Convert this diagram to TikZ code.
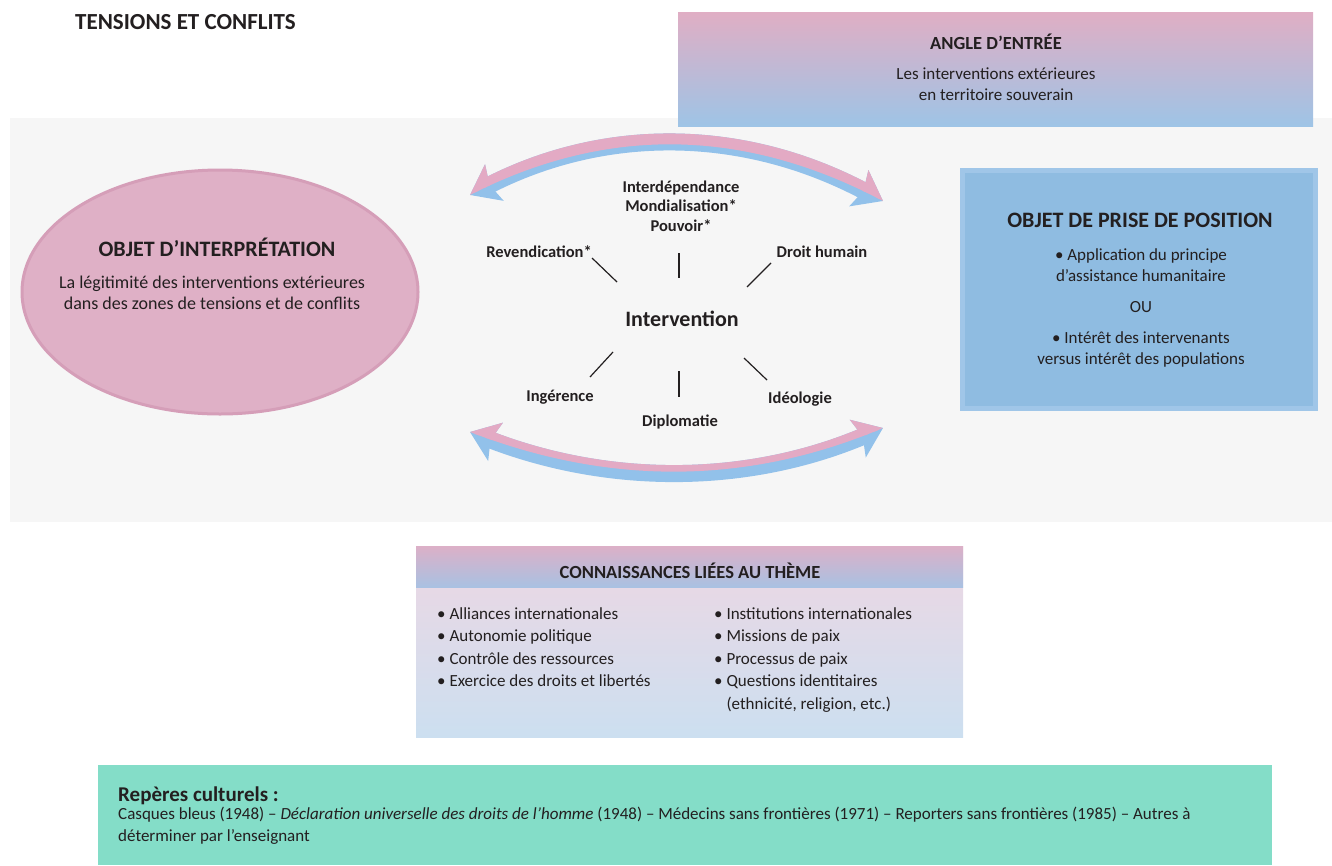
\documentclass[tikz,border=0pt]{standalone}
\usepackage{fontspec}
\setmainfont{Carlito}
\usetikzlibrary{arrows.meta,positioning,shapes.geometric}

\definecolor{texte}{HTML}{231F20}
\definecolor{rosefond}{HTML}{DFB0C6}
\definecolor{roserim}{HTML}{D59EB8}
\definecolor{bleufond}{HTML}{8FBCE1}
\definecolor{bleurim}{HTML}{A0C6E8}
\definecolor{rosehaut}{HTML}{E0AEC4}
\definecolor{bleubas}{HTML}{9EC4E6}
\definecolor{rosetete}{HTML}{DCB0C7}
\definecolor{bleutete}{HTML}{A9C1E2}
\definecolor{roseclair}{HTML}{EED7E3}
\definecolor{bleuclair}{HTML}{CCDFF0}
\definecolor{vertrepere}{HTML}{84DDC8}
\definecolor{grisfond}{HTML}{F6F6F6}
\definecolor{rosefleche}{HTML}{E3AAC4}
\definecolor{bleufleche}{HTML}{92C1EA}

\tikzset{
  every node/.style={text=texte, inner sep=0pt},
  titre/.style={font=\bfseries\fontsize{22}{24}\selectfont},
  soustitre/.style={font=\bfseries\fontsize{18.5}{20}\selectfont},
  corps/.style={font=\fontsize{17}{21}\selectfont, align=center},
  mot/.style={font=\bfseries\fontsize{16.5}{19.5}\selectfont, align=center},
  liste/.style={font=\fontsize{17}{22.5}\selectfont, align=left, anchor=north west},
  fleche/.style={line width=17pt,
    {Stealth[length=27pt,width=40pt,inset=5pt]}-{Stealth[length=27pt,width=40pt,inset=5pt]}},
  trait/.style={draw=texte, line width=1.2pt},
}

\def\arcdessus{(470,195) .. controls (607,125) and (745,128) .. (883,201)}
\def\arcdessous{(470,432) .. controls (610,486) and (748,485) .. (883,428)}

\begin{document}
\begin{tikzpicture}[x=1pt,y=-1pt]
\useasboundingbox (0,0) rectangle (1332,865);

\node[font=\bfseries\fontsize{23}{25}\selectfont, anchor=west] (theme) at (75,22) {TENSIONS ET CONFLITS};

\fill[grisfond] (10,118) rectangle (1332,522);

% angle d'entree
\node[top color=rosehaut, bottom color=bleubas, minimum width=635pt, minimum height=114pt] (angle) at (995.5,69) {};
\node[soustitre] (angletitre) at (996,42) {ANGLE D’ENTRÉE};
\node[corps] (angletexte) at (996,84) {Les interventions extérieures\\en territoire souverain};

% objet d'interpretation
\node[ellipse, fill=rosefond, draw=roserim, line width=3pt, minimum width=396pt, minimum height=244pt] (interp) at (220,292) {};
\node[titre] (interptitre) at (217,247) {OBJET D’INTERPRÉTATION};
\node[corps, font=\fontsize{18}{21}\selectfont] (interptexte) at (212,293) {La légitimité des interventions extérieures\\dans des zones de tensions et de conflits};

% objet de prise de position
\node[fill=bleurim, minimum width=358pt, minimum height=243pt] (position) at (1139,289.5) {};
\node[fill=bleufond, minimum width=348pt, minimum height=233pt] (positionfond) at (position) {};
\node[titre] (positiontitre) at (1140,220) {OBJET DE PRISE DE POSITION};
\node[corps] (positiontexte) at (1141,308) {• Application du principe\\d’assistance humanitaire\\[10pt]OU\\[10pt]• Intérêt des intervenants\\versus intérêt des populations};

% fleches
\draw[fleche, bleufleche] \arcdessus;
\begin{scope}
\clip \arcdessus -- (1000,201) -- (1000,100) -- (350,100) -- (350,195) -- cycle;
\draw[fleche, rosefleche] \arcdessus;
\end{scope}
\draw[fleche, bleufleche] \arcdessous;
\begin{scope}
\clip \arcdessous -- (1000,428) -- (1000,300) -- (350,300) -- (350,432) -- cycle;
\draw[fleche, rosefleche] \arcdessous;
\end{scope}

% concepts
\node[font=\bfseries\fontsize{22}{24}\selectfont] (inter) at (682,319) {Intervention};
\node[mot] (interdep) at (681,206) {Interdépendance\\Mondialisation*\\Pouvoir*};
\node[mot] (rev) at (539,252) {Revendication*};
\node[mot] (droit) at (822,252) {Droit humain};
\node[mot] (ing) at (560,397) {Ingérence};
\node[mot] (diplo) at (680,422) {Diplomatie};
\node[mot] (ideo) at (800,399) {Idéologie};
\foreach \xa/\ya/\dx/\dy in {-90/-61/25/24, -3/-66/0/25, 89/-56/-24/24, -69/33/-23/25, -3/52/0/26, 62/39/23/22}
  \draw[trait] (inter) ++(\xa,\ya) -- ++(\dx,\dy);

% connaissances
\node[top color=roseclair, bottom color=bleuclair, minimum width=547pt, minimum height=191pt] (savoirs) at (689.5,641.5) {};
\node[top color=rosetete, bottom color=bleutete, minimum width=547pt, minimum height=41pt] (savoirstete) at (689.5,566.5) {};
\node[soustitre] (savoirstitre) at (690,571) {CONNAISSANCES LIÉES AU THÈME};
\node[liste] (listegauche) at (437,607) {• Alliances internationales\\• Autonomie politique\\• Contrôle des ressources\\• Exercice des droits et libertés};
\node[liste] (listedroite) at (714,607) {• Institutions internationales\\• Missions de paix\\• Processus de paix\\• Questions identitaires\\\phantom{• }(ethnicité, religion, etc.)};

% reperes culturels
\node[fill=vertrepere, minimum width=1174pt, minimum height=100pt] (reperes) at (685,815) {};
\node[font=\bfseries\fontsize{21}{23}\selectfont, anchor=west] (reperestitre) at (118,796) {Repères culturels :};
\node[font=\fontsize{17}{22}\selectfont, align=left, anchor=north west] (reperestexte) at (118,807) {Casques bleus (1948) – \textit{Déclaration universelle des droits de l’homme} (1948) – Médecins sans frontières (1971) – Reporters sans frontières (1985) – Autres à\\déterminer par l’enseignant};
\end{tikzpicture}
\end{document}
